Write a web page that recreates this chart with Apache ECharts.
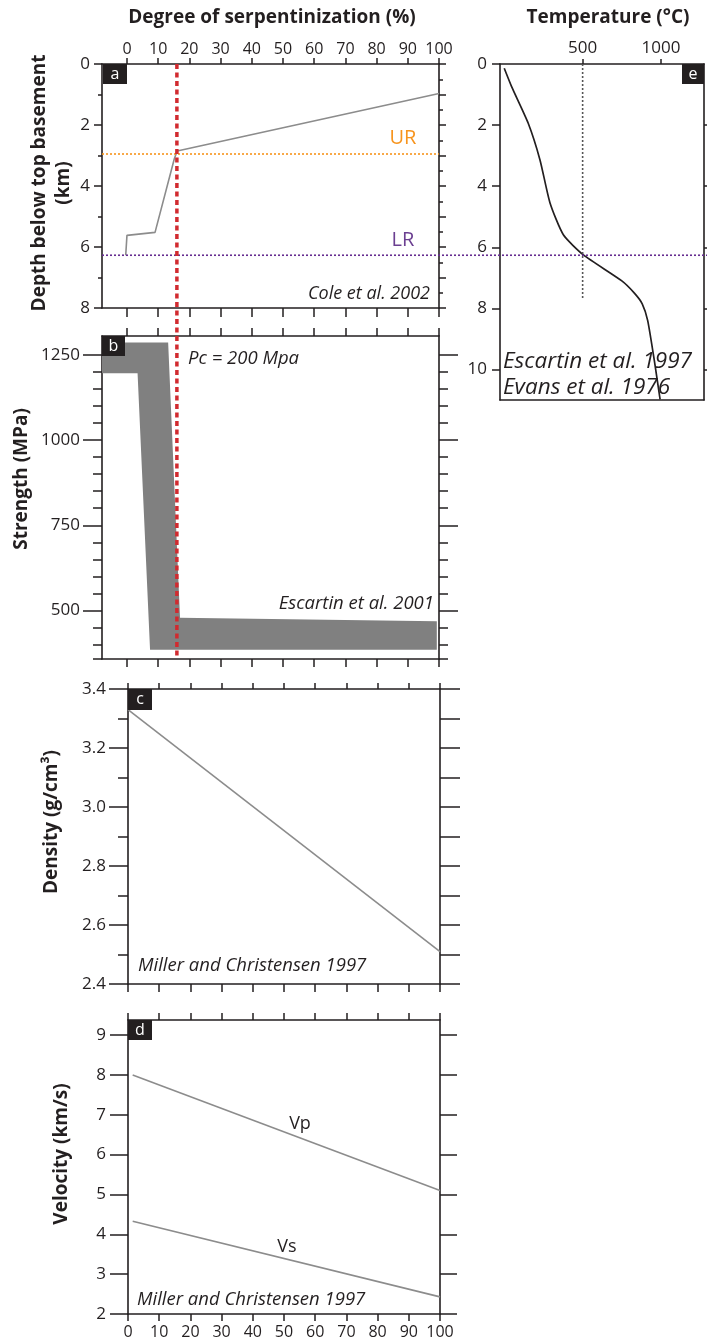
<!DOCTYPE html>
<html><head><meta charset="utf-8">
<script src="https://cdn.jsdelivr.net/npm/echarts@6/dist/echarts.min.js"></script>
<style>html,body{margin:0;padding:0;background:#fff}#c{width:707px;height:1344px}</style>
</head><body><div id="c"></div>
<script>
// ---------------- data ----------------
// panel a : degree of serpentinization vs depth (Cole et al. 2002)
const SERP_PCT   = [-0.4, 0, 9, 15.2, 16.1, 100];
const SERP_DEPTH = [6.27, 5.62, 5.52, 3.1, 2.85, 0.97];
const UR_DEPTH = 2.95;
const LR_DEPTH = 6.27;
const SERP_CRITICAL = 16;
const SERP_CRITICAL_STRENGTH_END = 366;

// panel b : strength envelope polygon (Escartin et al. 2001)
const STRENGTH_PCT = [-8, 13.2, 17, 99.3, 99.3, 7.4, 3.4, -8];
const STRENGTH_MPA = [1286, 1286, 479, 469, 385, 385, 1196, 1196];

// panel c : density
const DENSITY_PCT = [0, 100];
const DENSITY_VAL = [3.33, 2.51];

// panel d : velocities
const VEL_PCT = [1.5, 100];
const VP_VAL = [8.0, 5.1];
const VS_VAL = [4.33, 2.43];

// panel e : temperature vs depth
const TEMP_C     = [0, 47, 153, 228, 292, 377, 505, 750, 830, 880, 915, 960, 994];
const TEMP_DEPTH = [0.14, 0.74, 1.94, 3.14, 4.55, 5.59, 6.25, 7.1, 7.5, 7.85, 8.4, 9.8, 10.98];
const T_REF = 500;
const T_REF_DEPTH = [0, 7.7];

// ticks
const PCT_TICKS = [0, 10, 20, 30, 40, 50, 60, 70, 80, 90, 100];
const DEPTH_LABELS = [0, 2, 4, 6, 8];
const DEPTH_MINOR = [1, 3, 5, 7];
const DEPTH_INT = [0, 1, 2, 3, 4, 5, 6, 7, 8];
const DEPTH_HALF = [0.5, 1.5, 2.5, 3.5, 4.5, 5.5, 6.5, 7.5];
const STRENGTH_LABELS = [500, 750, 1000, 1250];
const STRENGTH_MINOR = [358, 400, 450, 550, 600, 650, 700, 800, 850, 900, 950, 1050, 1100, 1150, 1200];
const DENSITY_LABELS = [2.4, 2.6, 2.8, 3.0, 3.2, 3.4];
const DENSITY_MINOR = [2.5, 2.7, 2.9, 3.1, 3.3];
const DENSITY_ALL = [2.4, 2.5, 2.6, 2.7, 2.8, 2.9, 3.0, 3.1, 3.2, 3.3, 3.4];
const VEL_LABELS = [2, 3, 4, 5, 6, 7, 8, 9];
const TEMP_LABELS = [500, 1000];
const TDEPTH_LABELS = [0, 2, 4, 6, 8, 10];
const TDEPTH_RIGHT = [2, 4, 6, 8, 10];

// ---------------- styles ----------------
const INK = '#231f20';
const FONT = 'Open Sans';
const GRAY = '#8c8c8c';

function ax(gridIndex, position, min, max, o) {
  return {
    type: 'value', gridIndex, position, min, max, inverse: !!o.inverse,
    axisLine: { show: !!o.line, onZero: false, lineStyle: { color: INK, width: 1.6 } },
    axisTick: o.ticks ? { show: true, inside: false, length: o.len, customValues: o.ticks,
                          lineStyle: { color: INK, width: 1.5 } } : { show: false },
    axisLabel: o.labels ? { show: true, customValues: o.labels, margin: o.margin, color: INK,
                            fontFamily: FONT, fontSize: o.fs || 16,
                            formatter: o.fmt || (v => String(v)) } : { show: false },
    splitLine: { show: false }, splitArea: { show: false },
    silent: true
  };
}

const chart = echarts.init(document.getElementById('c'), null, { renderer: 'canvas' });

const PCT_MIN_AB = -8;
const T_MIN = -27, T_MAX = 1274;

const option = {
  backgroundColor: '#fff',
  animation: false,
  grid: [
    { left: 102, top: 64, width: 337, height: 244 },   // a
    { left: 102, top: 336, width: 337, height: 323 },  // b
    { left: 128, top: 689, width: 312, height: 295 },  // c
    { left: 128, top: 1020, width: 312, height: 294 }, // d
    { left: 500, top: 64, width: 204, height: 336 }    // e
  ],
  xAxis: [
    ax(0, 'top', PCT_MIN_AB, 100, { line: 1, ticks: PCT_TICKS, len: 6, labels: PCT_TICKS, margin: 7 }),
    ax(0, 'bottom', PCT_MIN_AB, 100, { line: 1, ticks: PCT_TICKS, len: 9 }),
    ax(1, 'top', PCT_MIN_AB, 100, { line: 1, ticks: PCT_TICKS, len: 8 }),
    ax(1, 'bottom', PCT_MIN_AB, 100, { line: 1, ticks: PCT_TICKS, len: 8 }),
    ax(2, 'top', 0, 100, { line: 1, ticks: PCT_TICKS, len: 6 }),
    ax(2, 'bottom', 0, 100, { line: 1, ticks: PCT_TICKS, len: 8 }),
    ax(3, 'top', 0, 100, { line: 1, ticks: PCT_TICKS, len: 7 }),
    ax(3, 'bottom', 0, 100, { line: 1, ticks: PCT_TICKS, len: 7, labels: PCT_TICKS, margin: 10 }),
    ax(4, 'top', T_MIN, T_MAX, { line: 1, ticks: TEMP_LABELS, len: 5, labels: TEMP_LABELS, margin: 7, fs: 17 }),
    ax(4, 'bottom', T_MIN, T_MAX, { line: 1 })
  ],
  yAxis: [
    ax(0, 'left', 0, 8, { inverse: 1, line: 1, ticks: DEPTH_LABELS, len: 8, labels: DEPTH_LABELS, margin: 12, fs: 17 }),
    ax(0, 'left', 0, 8, { inverse: 1, ticks: DEPTH_MINOR, len: 4 }),
    ax(0, 'right', 0, 8, { inverse: 1, line: 1, ticks: DEPTH_INT, len: 7 }),
    ax(0, 'right', 0, 8, { inverse: 1, ticks: DEPTH_HALF, len: 4 }),
    ax(1, 'left', 358, 1305, { line: 1, ticks: STRENGTH_LABELS, len: 19, labels: STRENGTH_LABELS, margin: 22, fs: 17 }),
    ax(1, 'left', 358, 1305, { ticks: STRENGTH_MINOR, len: 9 }),
    ax(1, 'right', 358, 1305, { line: 1, ticks: STRENGTH_LABELS, len: 19 }),
    ax(1, 'right', 358, 1305, { ticks: STRENGTH_MINOR, len: 9 }),
    ax(2, 'left', 2.4, 3.4, { line: 1, ticks: DENSITY_LABELS, len: 19, labels: DENSITY_LABELS, margin: 22, fs: 17, fmt: v => v.toFixed(1) }),
    ax(2, 'left', 2.4, 3.4, { ticks: DENSITY_MINOR, len: 10 }),
    ax(2, 'right', 2.4, 3.4, { line: 1, ticks: DENSITY_ALL, len: 20 }),
    ax(3, 'left', 2, 9.38, { line: 1, ticks: VEL_LABELS, len: 18, labels: VEL_LABELS, margin: 22, fs: 17 }),
    ax(3, 'right', 2, 9.38, { line: 1, ticks: VEL_LABELS, len: 17 }),
    ax(4, 'left', 0, 11, { inverse: 1, line: 1, ticks: TDEPTH_LABELS, len: 8, labels: TDEPTH_LABELS, margin: 13, fs: 17 }),
    ax(4, 'right', 0, 11, { inverse: 1, line: 1, ticks: TDEPTH_RIGHT, len: 8 })
  ],
  series: [
    { // 0 serpentinization profile
      type: 'line', xAxisIndex: 0, yAxisIndex: 0, symbol: 'none', silent: true,
      data: SERP_PCT.map((x, i) => [x, SERP_DEPTH[i]]),
      lineStyle: { color: GRAY, width: 1.6 }, z: 3,
      markLine: {
        silent: true, symbol: ['none', 'none'], label: { show: false },
        lineStyle: { color: '#f7941d', width: 1.6, type: [2, 2] },
        data: [{ yAxis: UR_DEPTH }]
      }
    },
    { // 1 strength envelope
      type: 'custom', xAxisIndex: 2, yAxisIndex: 4, silent: true, z: 2,
      data: STRENGTH_PCT.map((x, i) => [x, STRENGTH_MPA[i]]),
      renderItem: (params, api) => {
        if (params.dataIndex !== 0) return null;
        const pts = STRENGTH_PCT.map((x, i) => api.coord([x, STRENGTH_MPA[i]]));
        return { type: 'polygon', shape: { points: pts }, style: { fill: '#808080' } };
      }
    },
    { // 2 density
      type: 'line', xAxisIndex: 4, yAxisIndex: 8, symbol: 'none', silent: true,
      data: DENSITY_PCT.map((x, i) => [x, DENSITY_VAL[i]]),
      lineStyle: { color: GRAY, width: 1.6 }
    },
    { // 3 Vp
      type: 'line', xAxisIndex: 6, yAxisIndex: 11, symbol: 'none', silent: true,
      data: VEL_PCT.map((x, i) => [x, VP_VAL[i]]),
      lineStyle: { color: GRAY, width: 1.6 }
    },
    { // 4 Vs
      type: 'line', xAxisIndex: 6, yAxisIndex: 11, symbol: 'none', silent: true,
      data: VEL_PCT.map((x, i) => [x, VS_VAL[i]]),
      lineStyle: { color: GRAY, width: 1.6 }
    },
    { // 5 temperature
      type: 'line', xAxisIndex: 8, yAxisIndex: 13, symbol: 'none', silent: true, smooth: 0.2,
      data: TEMP_C.map((x, i) => [x, TEMP_DEPTH[i]]),
      lineStyle: { color: INK, width: 1.7 }
    },
    { // 6 500 °C reference
      type: 'line', xAxisIndex: 8, yAxisIndex: 13, symbol: 'none', silent: true,
      data: T_REF_DEPTH.map(d => [T_REF, d]),
      lineStyle: { color: '#555', width: 1.6, type: [2, 2] }
    }
  ]
};
chart.setOption(option);

// ---------------- overlays ----------------
const pA0 = chart.convertToPixel({ seriesIndex: 0 }, [PCT_MIN_AB, LR_DEPTH]);
const rTop = chart.convertToPixel({ seriesIndex: 0 }, [SERP_CRITICAL, 0]);
const rBot = chart.convertToPixel({ seriesIndex: 1 }, [SERP_CRITICAL, SERP_CRITICAL_STRENGTH_END]);

function txt(text, x, y, o) {
  return {
    type: 'text', x, y, rotation: o.rot || 0, z: 100, silent: true,
    style: {
      text, fill: o.color || INK, align: o.align || 'left', verticalAlign: 'middle',
      fontFamily: FONT, fontSize: o.fs || 16, fontWeight: o.bold ? 'bold' : 'normal',
      fontStyle: o.italic ? 'italic' : 'normal'
    }
  };
}
function box(letter, x, y, w, h) {
  return [
    { type: 'rect', z: 100, silent: true, shape: { x, y, width: w, height: h }, style: { fill: INK } },
    { type: 'text', z: 101, silent: true, x: x + w / 2, y: y + h / 2,
      style: { text: letter, fill: '#fff', align: 'center', verticalAlign: 'middle', fontFamily: FONT, fontSize: 16 } }
  ];
}

const graphics = [
  { type: 'line', z: 90, silent: true,
    shape: { x1: pA0[0], y1: pA0[1], x2: chart.getWidth(), y2: pA0[1] },
    style: { stroke: '#662d91', lineWidth: 1.6, lineDash: [2, 2] } },
  { type: 'line', z: 95, silent: true,
    shape: { x1: rTop[0], y1: rTop[1], x2: rBot[0], y2: rBot[1] },
    style: { stroke: '#d12a2f', lineWidth: 3.5, lineDash: [5, 3.5] } },
  ...box('a', 103, 64, 24, 20),
  ...box('b', 102, 336, 23, 20),
  ...box('c', 128, 689, 24, 21),
  ...box('d', 128, 1020, 24, 20),
  ...box('e', 682, 64, 22, 20),
  txt('Degree of serpentinization (%)', 272, 18, { align: 'center', bold: 1, fs: 19 }),
  txt('Temperature (°C)', 608, 18, { align: 'center', bold: 1, fs: 19 }),
  txt('Depth below top basement', 40, 183, { align: 'center', bold: 1, fs: 19, rot: Math.PI / 2 }),
  txt('(km)', 64, 183, { align: 'center', bold: 1, fs: 19, rot: Math.PI / 2 }),
  txt('Strength (MPa)', 22, 479, { align: 'center', bold: 1, fs: 19, rot: Math.PI / 2 }),
  txt('Density (g/cm³)', 52, 822, { align: 'center', bold: 1, fs: 19, rot: Math.PI / 2 }),
  txt('Velocity (km/s)', 62, 1154, { align: 'center', bold: 1, fs: 19, rot: Math.PI / 2 }),
  txt('UR', 403, 138, { align: 'center', fs: 20, color: '#f7941d' }),
  txt('LR', 403, 240, { align: 'center', fs: 20, color: '#6b3f91' }),
  txt('Cole et al. 2002', 430, 294, { align: 'right', italic: 1, fs: 18 }),
  txt('Pc = 200 Mpa', 188, 359, { italic: 1, fs: 18.5 }),
  txt('Escartin et al. 2001', 434, 604, { align: 'right', italic: 1, fs: 18.5 }),
  txt('Miller and Christensen 1997', 138, 966, { italic: 1, fs: 18.5 }),
  txt('Vp', 300, 1124, { align: 'center', fs: 18 }),
  txt('Vs', 287, 1247, { align: 'center', fs: 18 }),
  txt('Miller and Christensen 1997', 137, 1300, { italic: 1, fs: 18.5 }),
  txt('Escartin et al. 1997', 503, 362, { italic: 1, fs: 22.5 }),
  txt('Evans et al. 1976', 503, 388, { italic: 1, fs: 22.5 })
];
chart.setOption({ graphic: graphics });
</script>
</body></html>
